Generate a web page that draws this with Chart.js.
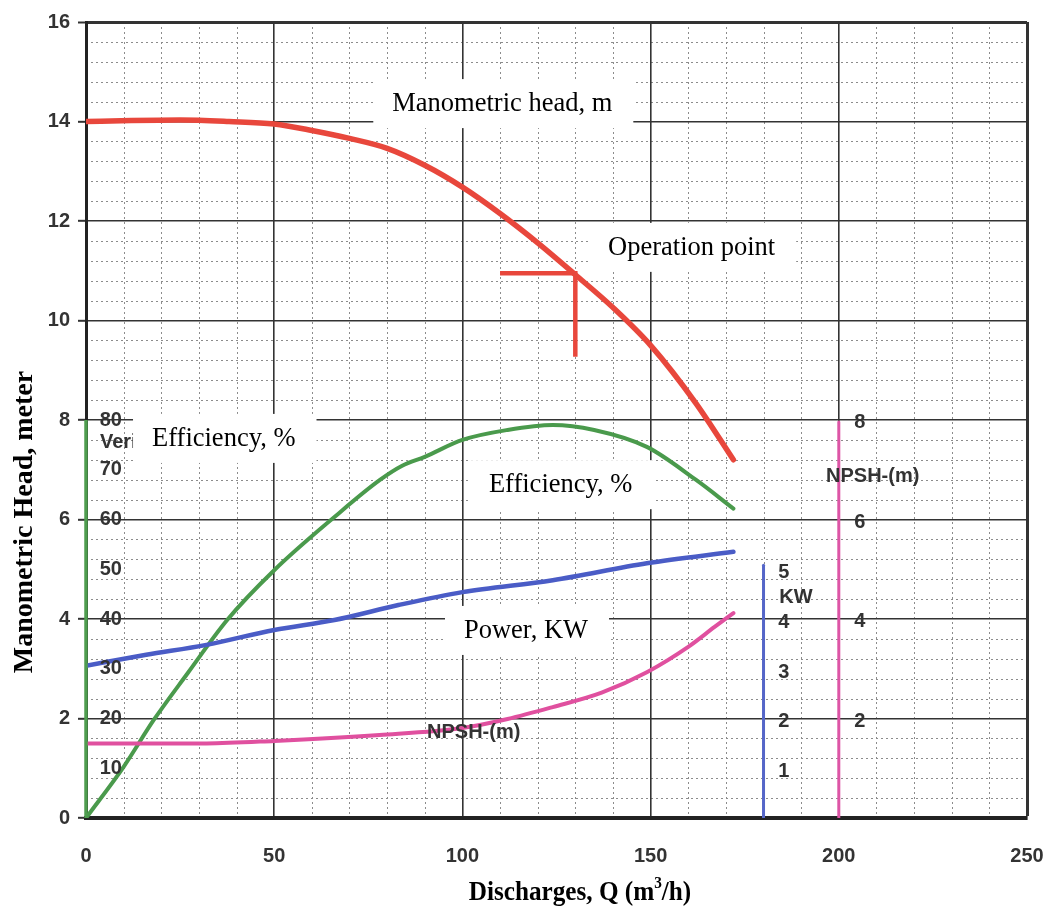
<!DOCTYPE html>
<html>
<head>
<meta charset="utf-8">
<script src="https://cdn.jsdelivr.net/npm/chart.js@4.4.1/dist/chart.umd.min.js"></script>
<style>
  body { margin: 0; background: #fff; }
  canvas { display: block; }
</style>
</head>
<body>
<canvas id="pumpChart" width="1047" height="909"></canvas>
<script>
// manometric head curve (Q in m3/h, head in m)
const headQ = [0, 12, 25, 38, 50, 60, 70, 80, 90, 100, 110, 120, 130, 140, 150, 162, 172];
const headM = [14.0, 14.02, 14.03, 14.0, 13.95, 13.82, 13.66, 13.46, 13.12, 12.68, 12.15, 11.56, 10.92, 10.26, 9.5, 8.34, 7.2];

// efficiency curve, %
const effQ = [0, 10, 18, 27, 37.5, 50, 66, 78, 84, 90, 100, 112, 124, 135, 149, 162, 172];
const effPct = [0, 10.3, 19.7, 29.1, 39.8, 49.8, 60.5, 67.9, 70.8, 72.6, 76, 78, 79, 78, 74.6, 68, 62.2];

// shaft power, kW
const powQ = [0, 16, 32, 50, 66, 83, 100, 124, 149, 172];
const powKW = [3.06, 3.28, 3.48, 3.78, 3.98, 4.28, 4.54, 4.78, 5.12, 5.35];

// NPSH required, m
const npshQ = [0, 32, 50, 78, 100, 112, 124, 137, 149, 160, 167, 172];
const npshM = [1.5, 1.5, 1.55, 1.67, 1.81, 1.99, 2.23, 2.52, 2.93, 3.44, 3.84, 4.12];

// operation point marker
const opQ = [110, 130, 130];
const opH = [10.95, 10.95, 9.27];

// secondary scales drawn inside the plot
const effTicks = [10, 20, 30, 40, 50, 60, 70, 80];
const kwTicks = [1, 2, 3, 4, 5];
const npshTicks = [2, 4, 6, 8];

const xTicks = [0, 50, 100, 150, 200, 250];
const yTicks = [0, 2, 4, 6, 8, 10, 12, 14, 16];

function pts(qs, vs) {
    return qs.map((q, i) => ({x: q, y: vs[i]}));
}

const sansBold = 'bold 20px "Liberation Sans", Arial, sans-serif';
const serif = '26.5px "Liberation Serif", "Times New Roman", serif';

const overlay = {
    id: 'overlay',
    beforeDraw(chart) {
        const {ctx, chartArea: a, scales: {x, y}} = chart;
        ctx.save();
        ctx.fillStyle = '#fff';
        ctx.fillRect(0, 0, chart.width, chart.height);
        // dotted minor grid
        ctx.strokeStyle = '#8c8c8c';
        ctx.lineWidth = 1;
        ctx.setLineDash([2, 3]);
        ctx.beginPath();
        for (let q = 10; q < 250; q += 10) {
            if (q % 50 === 0) continue;
            const px = Math.round(x.getPixelForValue(q)) + 0.5;
            ctx.moveTo(px, a.top); ctx.lineTo(px, a.bottom);
        }
        for (let i = 1; i < 40; i++) {
            if (i % 5 === 0) continue;
            const py = Math.round(y.getPixelForValue(i * 0.4)) + 0.5;
            ctx.moveTo(a.left, py); ctx.lineTo(a.right, py);
        }
        ctx.stroke();
        ctx.restore();
    },
    afterDatasetsDraw(chart) {
        const {ctx, scales: {x, y, yEff}} = chart;
        ctx.save();
        ctx.fillStyle = '#333';
        ctx.font = sansBold;
        ctx.textAlign = 'center';
        ctx.textBaseline = 'middle';

        effTicks.forEach(v => ctx.fillText(String(v), x.getPixelForValue(6.6), yEff.getPixelForValue(v)));
        ctx.textAlign = 'left';
        ctx.fillText('Verim', x.getPixelForValue(3.7), y.getPixelForValue(7.54));
        ctx.textAlign = 'center';

        kwTicks.forEach(v => ctx.fillText(String(v), x.getPixelForValue(185.4), y.getPixelForValue(v - 0.07)));
        ctx.fillText('KW', x.getPixelForValue(188.6), y.getPixelForValue(4.44));

        npshTicks.forEach(v => ctx.fillText(String(v), x.getPixelForValue(205.6), y.getPixelForValue(v - 0.05)));
        ctx.fillText('NPSH-(m)', x.getPixelForValue(209), y.getPixelForValue(6.87));
        ctx.fillText('NPSH-(m)', x.getPixelForValue(103), y.getPixelForValue(1.71));

        // white caption boxes pasted over the graph
        const notes = [
            ['Manometric head, m', 110.6, 14.37],
            ['Operation point', 160.9, 11.48],
            ['Efficiency, %', 36.6, 7.64],
            ['Efficiency, %', 126.1, 6.71],
            ['Power, KW', 116.9, 3.78]
        ];
        ctx.font = serif;
        notes.forEach(n => {
            const cx = x.getPixelForValue(n[1]);
            const cy = y.getPixelForValue(n[2]);
            const w = ctx.measureText(n[0]).width;
            ctx.fillStyle = '#fff';
            ctx.fillRect(cx - w / 2 - 19, cy - 24, w + 40, 49);
            ctx.fillStyle = '#000';
            ctx.fillText(n[0], cx, cy + 1);
        });
        ctx.restore();
    },
    afterDraw(chart) {
        const {ctx} = chart;
        ctx.save();
        ctx.fillStyle = '#000';
        ctx.textBaseline = 'middle';
        // x axis title, slightly condensed like the scan
        ctx.translate(580, 893);
        ctx.scale(0.9, 1);
        const f = '"Liberation Serif", "Times New Roman", serif';
        const p1 = 'Discharges, Q (m', p2 = '3', p3 = '/h)';
        ctx.font = 'bold 28px ' + f;
        const w1 = ctx.measureText(p1).width, w3 = ctx.measureText(p3).width;
        ctx.font = 'bold 17px ' + f;
        const w2 = ctx.measureText(p2).width;
        let sx = -(w1 + w2 + w3) / 2;
        ctx.textAlign = 'left';
        ctx.font = 'bold 28px ' + f;
        ctx.fillText(p1, sx, 0);
        ctx.font = 'bold 17px ' + f;
        ctx.fillText(p2, sx + w1, -9);
        ctx.font = 'bold 28px ' + f;
        ctx.fillText(p3, sx + w1 + w2, 0);
        ctx.restore();

        ctx.save();
        ctx.translate(25, 522);
        ctx.rotate(-Math.PI / 2);
        ctx.font = 'bold 28px ' + f;
        ctx.fillStyle = '#000';
        ctx.textAlign = 'center';
        ctx.textBaseline = 'middle';
        ctx.fillText('Manometric Head, meter', 0, 0);
        ctx.restore();
    }
};

const lineBase = {
    showLine: true,
    pointRadius: 0,
    fill: false,
    cubicInterpolationMode: 'monotone',
    borderCapStyle: 'round'
};

const ctx = document.getElementById('pumpChart').getContext('2d');
const pumpChart = new Chart(ctx, {
    type: 'scatter',
    data: {
        datasets: [
            Object.assign({}, lineBase, {label: 'Efficiency axis', data: [{x: 0, y: 0}, {x: 0, y: 80}], yAxisID: 'yEff', borderColor: '#4f9d4f', borderWidth: 3.5, cubicInterpolationMode: 'default', tension: 0, clip: false, borderCapStyle: 'butt'}),
            Object.assign({}, lineBase, {label: 'KW axis', data: [{x: 180, y: 0}, {x: 180, y: 5.08}], borderColor: '#5566c8', borderWidth: 3, cubicInterpolationMode: 'default', tension: 0}),
            Object.assign({}, lineBase, {label: 'NPSH axis', data: [{x: 200, y: 0}, {x: 200, y: 7.96}], borderColor: '#dd55a6', borderWidth: 3, cubicInterpolationMode: 'default', tension: 0}),
            Object.assign({}, lineBase, {label: 'NPSH', data: pts(npshQ, npshM), borderColor: '#e0509f', borderWidth: 4}),
            Object.assign({}, lineBase, {label: 'Power', data: pts(powQ, powKW), borderColor: '#4a5cc6', borderWidth: 4.5}),
            Object.assign({}, lineBase, {label: 'Efficiency', data: pts(effQ, effPct), yAxisID: 'yEff', borderColor: '#4a9a4c', borderWidth: 4}),
            Object.assign({}, lineBase, {label: 'Head', data: pts(headQ, headM), borderColor: '#e8473c', borderWidth: 5.5}),
            Object.assign({}, lineBase, {label: 'Operation point', data: pts(opQ, opH), borderColor: '#e8473c', borderWidth: 4.5, cubicInterpolationMode: 'default', tension: 0, borderCapStyle: 'butt'})
        ]
    },
    options: {
        responsive: false,
        animation: false,
        layout: {padding: {top: 22, right: 20, left: 0, bottom: 0}},
        plugins: {legend: {display: false}, tooltip: {enabled: false}},
        scales: {
            x: {
                type: 'linear', min: 0, max: 250,
                afterFit: s => { s.height = 91; s.paddingLeft = 0; s.paddingRight = 0; },
                afterBuildTicks: s => { s.ticks = xTicks.map(v => ({value: v})); },
                ticks: {font: {family: '"Liberation Sans", Arial, sans-serif', size: 20, weight: 'bold'}, color: '#333', padding: 26, maxRotation: 0},
                grid: {color: '#333', lineWidth: c => (c.tick && c.tick.value === 250 ? 3 : 1.6), drawTicks: false},
                border: {color: '#222', width: 4}
            },
            y: {
                type: 'linear', min: 0, max: 16,
                afterFit: s => { s.width = 86; s.paddingTop = 0; s.paddingBottom = 0; },
                afterBuildTicks: s => { s.ticks = yTicks.map(v => ({value: v})); },
                ticks: {font: {family: '"Liberation Sans", Arial, sans-serif', size: 20, weight: 'bold'}, color: '#333', padding: 8},
                grid: {color: '#333', lineWidth: c => (c.tick && c.tick.value === 16 ? 3 : 1.6), tickLength: 8, tickColor: '#333', tickWidth: 2},
                border: {color: '#222', width: 3}
            },
            yEff: {type: 'linear', min: 0, max: 160, display: false}
        }
    },
    plugins: [overlay]
});
</script>
</body>
</html>
